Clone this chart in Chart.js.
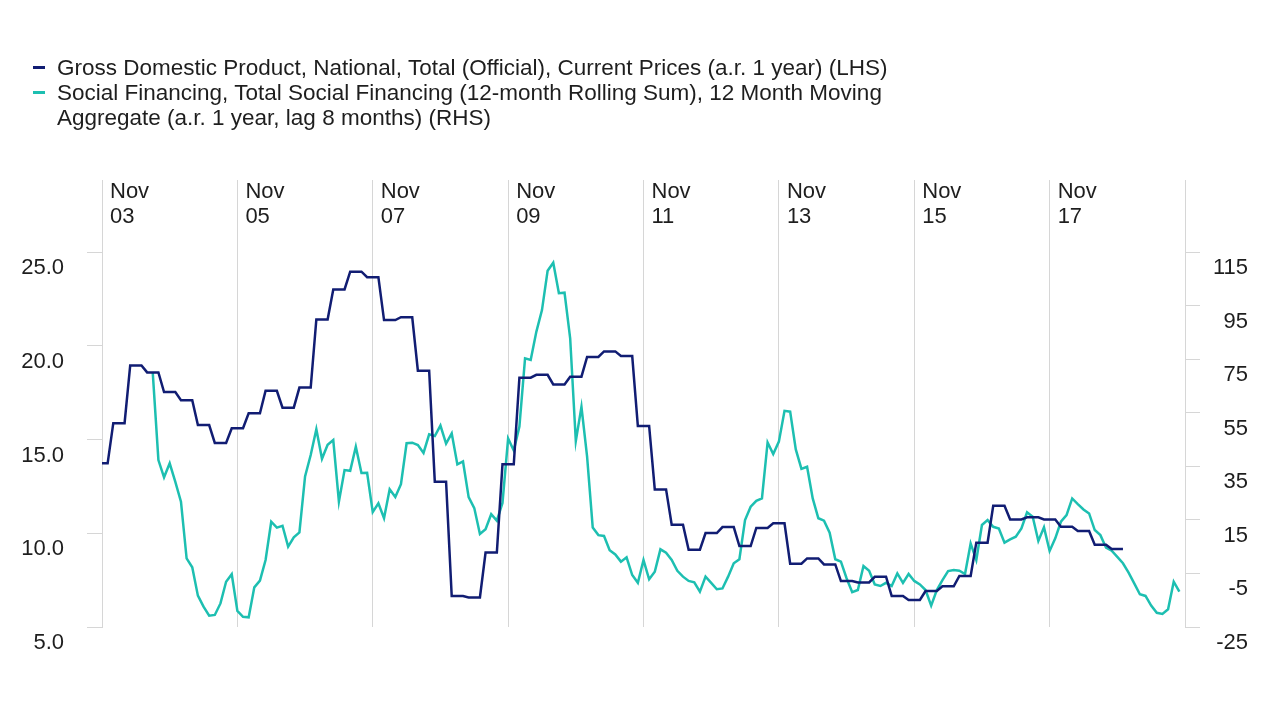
<!DOCTYPE html>
<html>
<head>
<meta charset="utf-8">
<script src="https://cdn.jsdelivr.net/npm/chart.js@4.4.1/dist/chart.umd.min.js"></script>
<style>
  html, body { margin: 0; padding: 0; background: #ffffff; }
  #wrap { position: relative; width: 1280px; height: 720px; overflow: hidden; }
  #chart { position: absolute; left: 0; top: 0; }
  #legend { position: absolute; left: 0; top: 55px; font-family: "Liberation Sans", Arial, sans-serif; font-size: 22px; line-height: 25px; color: #1e1e1e; }
  .item { position: relative; padding-left: 57px; }
  .mark { position: absolute; left: 33px; top: 11px; width: 12px; height: 3px; }
  .txt { display: inline-block; white-space: nowrap; transform-origin: 0 0; }
</style>
</head>
<body>
<div id="wrap">
  <canvas id="chart" width="1280" height="720"></canvas>
  <div id="legend"></div>
</div>
<script>
// ---------- DATA ----------
const startYear = 2003;            // first category: Nov 2003
const startMonth = 10;             // 0-based month index (Nov)
const monthCount = 193;            // Nov 2003 .. Nov 2019

const seriesLabels = [
  ["Gross Domestic Product, National, Total (Official), Current Prices (a.r. 1 year) (LHS)"],
  ["Social Financing, Total Social Financing (12-month Rolling Sum), 12 Month Moving",
   "Aggregate (a.r. 1 year, lag 8 months) (RHS)"]
];
const seriesColors = ["#111d73", "#1dbfb1"];

// GDP (LHS), monthly from Nov 2003 (quarterly value held for each month)
const gdpValues = [
  13.73, 13.73,
  15.87, 15.87, 15.87, 18.95, 18.95, 18.95, 18.58, 18.58, 18.58, 17.53, 17.53, 17.53,
  17.10, 17.10, 17.10, 15.77, 15.77, 15.77, 14.82, 14.82, 14.82, 15.60, 15.60, 15.60,
  16.40, 16.40, 16.40, 17.60, 17.60, 17.60, 16.70, 16.70, 16.70, 17.77, 17.77, 17.77,
  21.40, 21.40, 21.40, 23.00, 23.00, 23.00, 23.95, 23.95, 23.95, 23.66, 23.66, 23.66,
  21.37, 21.37, 21.37, 21.52, 21.52, 21.52, 18.67, 18.67, 18.67, 12.75, 12.75, 12.75,
  6.65, 6.65, 6.65, 6.58, 6.58, 6.58, 8.97, 8.97, 8.97, 13.68, 13.68, 13.68,
  18.30, 18.30, 18.30, 18.45, 18.45, 18.45, 17.94, 17.94, 17.94, 18.35, 18.35, 18.35,
  19.40, 19.40, 19.40, 19.70, 19.70, 19.70, 19.45, 19.45, 19.45, 15.72, 15.72, 15.72,
  12.34, 12.34, 12.34, 10.46, 10.46, 10.46, 9.12, 9.12, 9.12, 10.01, 10.01, 10.01,
  10.33, 10.33, 10.33, 9.32, 9.32, 9.32, 10.28, 10.28, 10.28, 10.53, 10.53, 10.53,
  8.38, 8.38, 8.38, 8.66, 8.66, 8.66, 8.34, 8.34, 8.34, 7.45, 7.45, 7.45,
  7.38, 7.38, 7.38, 7.68, 7.68, 7.68, 6.65, 6.65, 6.65, 6.44, 6.44, 6.44,
  6.92, 6.92, 6.92, 7.17, 7.17, 7.17, 7.72, 7.72, 7.72, 9.50, 9.50, 9.50,
  11.47, 11.47, 11.47, 10.74, 10.74, 10.74, 10.85, 10.85, 10.85, 10.74, 10.74, 10.74,
  10.35, 10.35, 10.35, 10.12, 10.12, 10.12, 9.39, 9.39, 9.39, 9.16, 9.16, 9.16
];

// Social financing (RHS), monthly from Nov 2003 (first value Aug 2004)
const sfValues = [
  null, null, null, null, null, null, null, null, null,
  69.9, 37.3, 30.9, 36.1, 29.2, 21.8, 0.6, -2.7, -13.3, -17.4, -20.8, -20.5, -16.2,
  -8.1, -5.3, -19.0, -21.2, -21.4, -10.2, -7.7, 0.0, 14.3, 12.1, 12.8, 5.0,
  8.5, 10.3, 31.2, 39.2, 48.8, 37.8, 43.0, 44.8, 21.8, 33.6, 33.3, 42.3,
  32.5, 32.6, 17.9, 21.2, 15.6, 26.4, 23.5, 28.3, 43.6, 43.8, 42.9, 40.0,
  46.9, 46.3, 50.2, 43.5, 47.3, 35.7, 36.8, 23.5, 19.4, 9.7, 11.5, 17.1,
  14.7, 21.3, 45.4, 40.9, 49.8, 75.3, 74.7, 85.2, 93.3, 108.0, 111.0, 99.6,
  99.8, 82.8, 44.4, 57.2, 38.6, 12.1, 9.3, 9.0, 3.7, 2.1, -0.6, 1.0,
  -5.6, -8.5, 0.0, -7.2, -4.4, 4.0, 2.7, 0.0, -4.0, -6.2, -7.8, -8.3,
  -11.8, -6.2, -8.5, -10.9, -10.6, -6.2, -1.2, 0.3, 14.9, 19.9, 22.1, 23.0,
  43.9, 39.6, 44.2, 55.7, 55.4, 41.3, 34.0, 34.8, 23.0, 15.6, 14.7, 10.2,
  0.3, -0.6, -6.8, -12.0, -11.2, -2.2, -4.0, -9.1, -9.7, -8.5, -9.7, -5.0,
  -8.5, -5.2, -7.8, -9.1, -11.2, -17.0, -11.2, -7.5, -4.1, -3.7, -4.0, -5.2,
  6.2, 0.0, 13.1, 14.9, 12.4, 11.8, 6.5, 7.7, 8.7, 11.8, 17.8, 16.2,
  7.1, 12.2, 3.4, 8.1, 14.3, 16.8, 23.0, 20.9, 18.9, 17.4, 11.2, 9.3,
  4.6, 3.5, 1.2, -1.2, -4.7, -8.7, -12.8, -13.4, -17.0, -19.7, -20.1, -18.4,
  -8.1, -11.8
];

// Tick positions (category index) and labels
const xTickIndex = [0, 24, 48, 72, 96, 120, 144, 168];
const xTickLabels = [["Nov","03"],["Nov","05"],["Nov","07"],["Nov","09"],["Nov","11"],["Nov","13"],["Nov","15"],["Nov","17"]];
const leftTicks = [5, 10, 15, 20, 25];
const leftTickLabels = ["5.0", "10.0", "15.0", "20.0", "25.0"];
const rightTicks = [-25, -5, 15, 35, 55, 75, 95, 115];
const rightTickLabels = ["-25", "-5", "15", "35", "55", "75", "95", "115"];

// ---------- CATEGORIES ----------
const monthNames = ["Jan","Feb","Mar","Apr","May","Jun","Jul","Aug","Sep","Oct","Nov","Dec"];
const categories = [];
for (let i = 0; i < monthCount; i++) {
  const m = startMonth + i;
  categories.push(monthNames[m % 12] + " " + (startYear + Math.floor(m / 12)));
}

// ---------- LEGEND (HTML) ----------
const FONT = '"Liberation Sans", Arial, sans-serif';
const legendEl = document.getElementById('legend');
const mctx = document.createElement('canvas').getContext('2d');
mctx.font = '22px ' + FONT;
const scaleX = 831 / mctx.measureText(seriesLabels[0][0]).width;
seriesLabels.forEach((lines, i) => {
  const item = document.createElement('div');
  item.className = 'item';
  const mk = document.createElement('div');
  mk.className = 'mark';
  mk.style.background = seriesColors[i];
  item.appendChild(mk);
  lines.forEach(t => {
    const ln = document.createElement('div');
    const sp = document.createElement('span');
    sp.className = 'txt';
    sp.textContent = t;
    sp.style.transform = 'scaleX(' + scaleX.toFixed(4) + ')';
    ln.appendChild(sp);
    item.appendChild(ln);
  });
  legendEl.appendChild(item);
});

// ---------- CHART ----------
const tickFont = { family: FONT, size: 22, lineHeight: '25px' };
const gridGrey = '#d6d6d6';
const textCol = '#1e1e1e';

new Chart(document.getElementById('chart'), {
  type: 'line',
  data: {
    labels: categories,
    datasets: [
      {
        label: seriesLabels[0].join(' '),
        data: gdpValues,
        yAxisID: 'y',
        borderColor: seriesColors[0],
        borderWidth: 2.5,
        pointRadius: 0,
        tension: 0,
        fill: false
      },
      {
        label: seriesLabels[1].join(' '),
        data: sfValues,
        yAxisID: 'y1',
        borderColor: seriesColors[1],
        borderWidth: 2.5,
        pointRadius: 0,
        tension: 0,
        fill: false
      }
    ]
  },
  options: {
    responsive: false,
    devicePixelRatio: 1,
    animation: false,
    layout: { padding: { top: 180, right: 32, bottom: 93, left: 0 } },
    plugins: { legend: { display: false }, tooltip: { enabled: false } },
    scales: {
      x: {
        type: 'category',
        position: 'top',
        offset: false,
        afterBuildTicks: s => { s.ticks = xTickIndex.map(v => ({ value: v })); },
        afterFit: s => { s.height = 0; },
        grid: { display: true, drawOnChartArea: true, drawTicks: false, color: gridGrey, lineWidth: 1 },
        border: { display: false },
        ticks: {
          autoSkip: false, maxRotation: 0, minRotation: 0,
          mirror: true,
          align: 'start', labelOffset: 8, padding: -25.5,
          font: tickFont, color: textCol,
          callback: (v, i) => xTickLabels[i]
        }
      },
      y: {
        position: 'left',
        min: 5, max: 28.84,
        afterBuildTicks: s => { s.ticks = leftTicks.map(v => ({ value: v })); },
        afterFit: s => { s.width = 102; },
        grid: { drawOnChartArea: false, drawTicks: true, tickLength: 15, color: gridGrey, lineWidth: 1 },
        border: { display: true, color: gridGrey, width: 1 },
        ticks: { padding: 23, labelOffset: 16, font: tickFont, color: textCol,
                 callback: (v, i) => leftTickLabels[i] }
      },
      y1: {
        position: 'right',
        min: -25, max: 141.88,
        afterBuildTicks: s => { s.ticks = rightTicks.map(v => ({ value: v })); },
        afterFit: s => { s.width = 63; },
        grid: { drawOnChartArea: false, drawTicks: true, tickLength: 15, color: gridGrey, lineWidth: 1 },
        border: { display: true, color: gridGrey, width: 1 },
        ticks: { padding: 8, labelOffset: 16, crossAlign: 'far', font: tickFont, color: textCol,
                 callback: (v, i) => rightTickLabels[i] }
      }
    }
  }
});
</script>
</body>
</html>
